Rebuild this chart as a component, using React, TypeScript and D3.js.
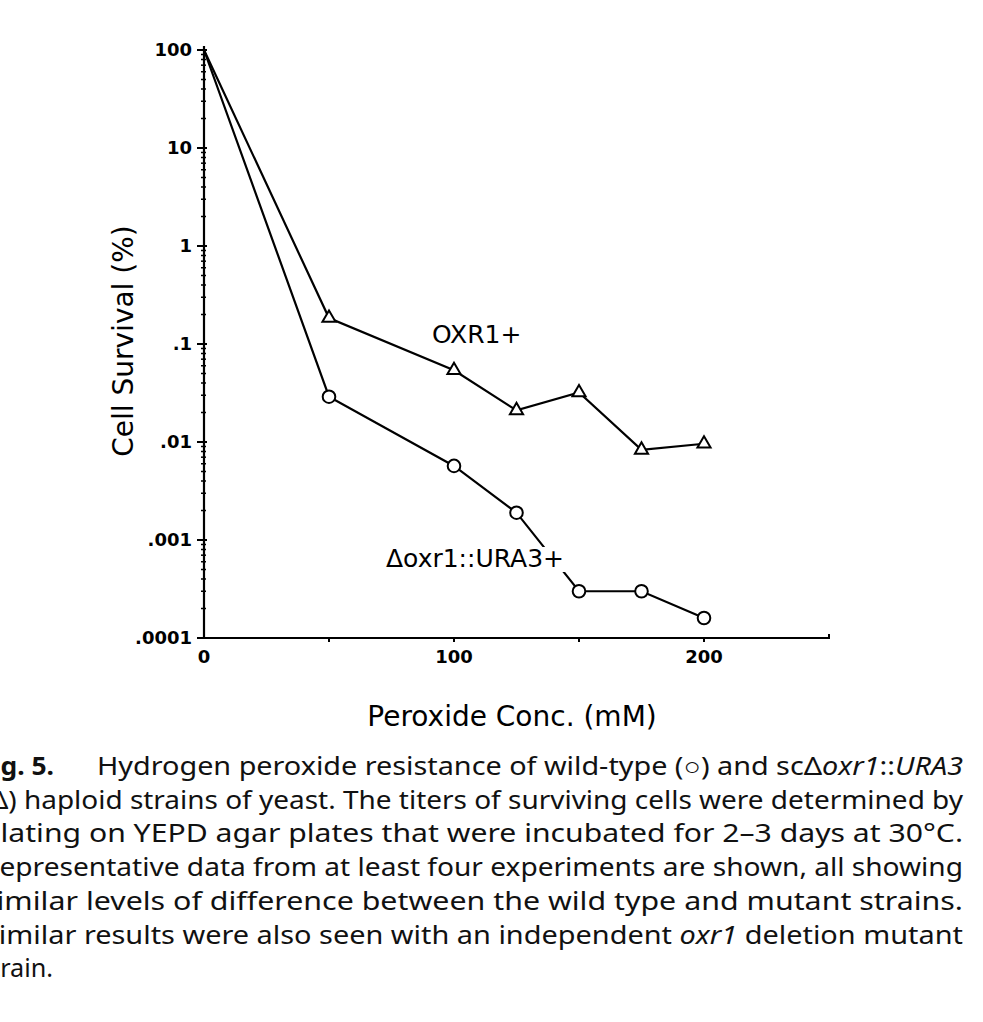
import React, { useRef, useEffect } from 'react';
import * as d3 from 'd3';

// peroxide concentrations (mM)
const conc = [0, 50, 100, 125, 150, 175, 200];
// cell survival (%) for each strain
const oxr1Plus = [100, 0.184, 0.054, 0.021, 0.032, 0.0083, 0.0096];
const deltaOxr1 = [100, 0.029, 0.0057, 0.0019, 0.0003, 0.0003, 0.00016];

const yTickValues = [100, 10, 1, 0.1, 0.01, 0.001, 0.0001];
const yTickLabels = ['100', '10', '1', '.1', '.01', '.001', '.0001'];
const xTickLabels = [0, 100, 200];

const captionLines = [
  '(\u0394) haploid strains of yeast. The titers of surviving cells were determined by',
  'plating on YEPD agar plates that were incubated for 2\u20133 days at 30\u00b0C.',
  'Representative data from at least four experiments are shown, all showing',
  'similar levels of difference between the wild type and mutant strains.',
];

const W = 983;
const H = 1022;

const App = () => {
  const svgRef = useRef<SVGSVGElement>(null);

  useEffect(() => {
    const svg = d3.select(svgRef.current);
    svg.selectAll('*').remove();

    const x = d3.scaleLinear().domain([0, 250]).range([204, 829]);
    const y = d3.scaleLog().domain([0.0001, 100]).range([638, 50]);

    const chartFont = '"DejaVu Sans", sans-serif';

    // y axis
    const yAxis = svg.append('g').attr('stroke', '#000');
    yAxis.append('line')
      .attr('x1', x(0)).attr('x2', x(0))
      .attr('y1', y(0.0001) + 1).attr('y2', y(100) - 4)
      .attr('stroke-width', 2.2);
    // minor ticks
    const minor: number[] = [];
    for (let e = -4; e < 2; e++) {
      for (let m = 2; m <= 9; m++) minor.push(m * Math.pow(10, e));
    }
    yAxis.selectAll('.minor').data(minor).enter().append('line')
      .attr('x1', x(0) - 3).attr('x2', x(0) + 2)
      .attr('y1', d => y(d)).attr('y2', d => y(d))
      .attr('stroke-width', 1.5);
    yAxis.selectAll('.major').data(yTickValues).enter().append('line')
      .attr('x1', x(0) - 7).attr('x2', x(0) + 3)
      .attr('y1', d => y(d)).attr('y2', d => y(d))
      .attr('stroke-width', 2);
    svg.append('g').selectAll('text').data(yTickValues).enter().append('text')
      .attr('x', x(0) - 12)
      .attr('y', d => y(d) + 6)
      .attr('text-anchor', 'end')
      .attr('font-family', chartFont)
      .attr('font-weight', 'bold')
      .attr('font-size', 18)
      .text((d, i) => yTickLabels[i]);

    // x axis
    const xAxis = svg.append('g').attr('stroke', '#000');
    xAxis.append('line')
      .attr('x1', x(0) - 1).attr('x2', x(250))
      .attr('y1', y(0.0001)).attr('y2', y(0.0001))
      .attr('stroke-width', 2.2);
    xAxis.selectAll('.xt').data([50, 100, 150, 200]).enter().append('line')
      .attr('x1', d => x(d)).attr('x2', d => x(d))
      .attr('y1', y(0.0001)).attr('y2', y(0.0001) + 4)
      .attr('stroke-width', 2);
    xAxis.append('line')
      .attr('x1', x(250)).attr('x2', x(250))
      .attr('y1', y(0.0001) - 4).attr('y2', y(0.0001) + 1)
      .attr('stroke-width', 2);
    svg.append('g').selectAll('text').data(xTickLabels).enter().append('text')
      .attr('x', d => x(d))
      .attr('y', y(0.0001) + 25)
      .attr('text-anchor', 'middle')
      .attr('font-family', chartFont)
      .attr('font-weight', 'bold')
      .attr('font-size', 18)
      .text(d => d);

    // axis titles
    svg.append('text')
      .attr('transform', 'translate(133, 341) rotate(-90)')
      .attr('text-anchor', 'middle')
      .attr('font-family', chartFont)
      .attr('font-size', 28)
      .text('Cell Survival (%)');
    svg.append('text')
      .attr('x', 512).attr('y', 726)
      .attr('text-anchor', 'middle')
      .attr('font-family', chartFont)
      .attr('font-size', 28)
      .text('Peroxide Conc. (mM)');

    const line = d3.line<number>()
      .x((d, i) => x(conc[i]))
      .y(d => y(d));

    // series lines
    svg.append('path').datum(oxr1Plus)
      .attr('d', line).attr('fill', 'none')
      .attr('stroke', '#000').attr('stroke-width', 2.2);
    svg.append('path').datum(deltaOxr1)
      .attr('d', line).attr('fill', 'none')
      .attr('stroke', '#000').attr('stroke-width', 2.2);

    // label for mutant with white knockout behind it
    const mutLabel = svg.append('text')
      .attr('x', 386).attr('y', 567)
      .attr('font-family', chartFont)
      .attr('font-size', 25)
      .text('\u0394oxr1::URA3+');
    const bb = (mutLabel.node() as SVGTextElement).getBBox();
    svg.insert('rect', () => mutLabel.node() as any)
      .attr('x', bb.x - 2).attr('y', bb.y + 3)
      .attr('width', bb.width + 4).attr('height', bb.height - 4)
      .attr('fill', '#fff');

    svg.append('text')
      .attr('x', 432).attr('y', 343)
      .attr('font-family', chartFont)
      .attr('font-size', 25)
      .text('OXR1+');

    // markers (skip the shared 100% start point)
    const tri = d3.symbol().type(d3.symbolTriangle).size(75);
    svg.append('g').selectAll('path').data(oxr1Plus.slice(1)).enter().append('path')
      .attr('d', tri)
      .attr('transform', (d, i) => `translate(${x(conc[i + 1])},${y(d)})`)
      .attr('fill', '#fff').attr('stroke', '#000').attr('stroke-width', 2);
    svg.append('g').selectAll('circle').data(deltaOxr1.slice(1)).enter().append('circle')
      .attr('cx', (d, i) => x(conc[i + 1]))
      .attr('cy', d => y(d))
      .attr('r', 6.3)
      .attr('fill', '#fff').attr('stroke', '#000').attr('stroke-width', 2);

    // caption (left edge is cut off as in the source page)
    const capFont = '"Noto Sans", "Open Sans", sans-serif';
    const cap = svg.append('g').attr('font-family', capFont).attr('font-size', 25).attr('fill', '#111');
    const left = -18;
    const right = 963;
    const lh = 33.7;
    const y0 = 775;
    cap.append('text').attr('x', -22).attr('y', y0).attr('font-weight', 'bold')
      .attr('textLength', 76).attr('lengthAdjust', 'spacingAndGlyphs')
      .text('Fig. 5.');
    const l1 = cap.append('text').attr('x', 97).attr('y', y0)
      .attr('textLength', right - 97).attr('lengthAdjust', 'spacingAndGlyphs');
    l1.append('tspan').text('Hydrogen peroxide resistance of wild-type (\u25cb) and sc\u0394');
    l1.append('tspan').attr('font-style', 'italic').text('oxr1');
    l1.append('tspan').text('::');
    l1.append('tspan').attr('font-style', 'italic').text('URA3');
    captionLines.forEach((t, i) => {
      cap.append('text').attr('x', left).attr('y', y0 + lh * (i + 1))
        .attr('textLength', right - left).attr('lengthAdjust', 'spacingAndGlyphs')
        .text(t);
    });
    const l6 = cap.append('text').attr('x', left + 1).attr('y', y0 + lh * 5)
      .attr('textLength', right - left - 1).attr('lengthAdjust', 'spacingAndGlyphs');
    l6.append('tspan').text('Similar results were also seen with an independent ');
    l6.append('tspan').attr('font-style', 'italic').text('oxr1');
    l6.append('tspan').text(' deletion mutant');
    cap.append('text').attr('x', -21).attr('y', y0 + lh * 6)
      .attr('textLength', 74).attr('lengthAdjust', 'spacingAndGlyphs')
      .text('strain.');
  }, []);

  return (
    <svg
      ref={svgRef}
      width={W}
      height={H}
      style={{ position: 'absolute', left: 0, top: 0, background: '#fff' }}
    />
  );
};

export default App;
